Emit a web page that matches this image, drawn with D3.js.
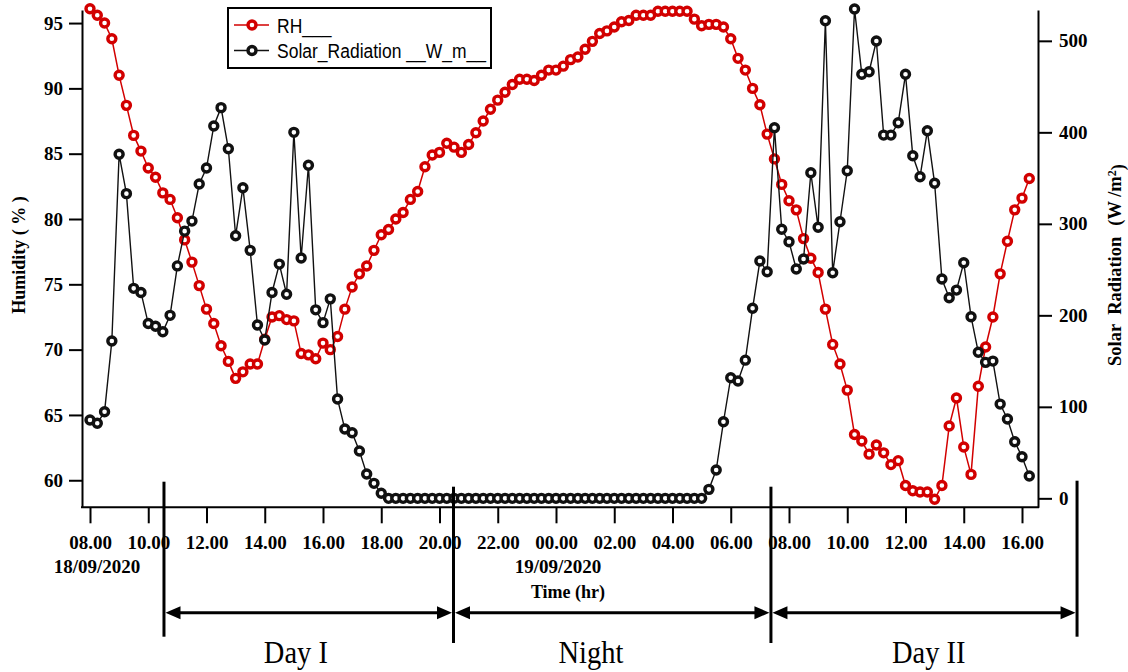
<!DOCTYPE html>
<html><head><meta charset="utf-8">
<script src="https://cdn.jsdelivr.net/npm/d3@7"></script>
<style>body{margin:0;background:#fff} svg{display:block}</style>
</head><body>
<svg id="chart" width="1128" height="672"></svg>
<script>
// ---- data (15-minute samples starting 18/09/2020 08:00) ----
const startHour = 8, stepHours = 0.25;
const rh = [96.1,95.6,95.0,93.8,91.0,88.7,86.4,85.2,83.9,83.2,
  82.0,81.5,80.1,78.4,76.7,74.9,73.1,72.0,70.3,69.1,
  67.8,68.3,68.9,68.9,70.8,72.5,72.6,72.3,72.2,69.7,
  69.6,69.3,70.5,70.0,71.0,73.1,74.8,75.8,76.4,77.6,
  78.8,79.2,80.0,80.5,81.5,82.1,84.0,84.9,85.1,85.8,
  85.5,85.1,85.7,86.6,87.5,88.4,89.1,89.7,90.3,90.7,
  90.7,90.6,91.0,91.4,91.4,91.7,92.2,92.4,93.0,93.6,
  94.2,94.4,94.7,95.1,95.2,95.6,95.6,95.6,95.9,95.9,
  95.9,95.9,95.9,95.3,94.8,94.9,94.9,94.7,93.8,92.3,
  91.4,90.0,88.75,86.5,84.6,82.65,81.4,80.7,78.5,77.0,
  75.9,73.1,70.4,68.9,66.9,63.5,63.0,62.0,62.7,62.1,
  61.2,61.5,59.6,59.2,59.1,59.1,58.55,59.6,64.15,66.3,
  62.55,60.45,67.2,70.2,72.5,75.8,78.3,80.7,81.6,83.1];
const solar = [85.6,82,94.7,172,376,333,229.5,225,191,188,
  182,200,254,292,303,343.5,361,407,427,382,
  287,339.5,271,189.4,173,225,256,223,400,262.6,
  364,206,192,218,108.5,75.7,71.7,51.7,26.6,16.4,
  5.5,0,0,0,0,0,0,0,0,0,
  0,0,0,0,0,0,0,0,0,0,
  0,0,0,0,0,0,0,0,0,0,
  0,0,0,0,0,0,0,0,0,0,
  0,0,0,0,0,9.8,30.9,83.7,131.8,128.2,
  151,207.7,259.3,247.7,405,294,280.4,250.6,261.5,355.8,
  296.2,522,246.6,302.3,358,534.8,463.4,466.2,499.8,397,
  397,410.5,463.4,374.4,351.5,401.7,344.3,239.7,219.2,227.6,
  257.5,198.5,159.6,148.6,150,103,86.7,61.9,45.5,24.4];
const xTickHours = [8,10,12,14,16,18,20,22,24,26,28,30,32,34,36,38,40];
const xTickLabels = ["08.00","10.00","12.00","14.00","16.00","18.00","20.00","22.00","00.00",
  "02.00","04.00","06.00","08.00","10.00","12.00","14.00","16.00"];
const rhTicks = [60,65,70,75,80,85,90,95];
const solarTicks = [0,100,200,300,400,500];
const dateLabels = ["18/09/2020","19/09/2020"];
const dateLabelHours = [8.24,24.07];
const periodBounds = [10.54, 20.48, 31.38, 41.89];
const periodLabels = ["Day I","Night","Day II"];
const periodLabelHours = [15.07, 25.2, 36.8];
const legendLabels = ["RH___","Solar_Radiation __W_m__"];

// ---- layout ----
const svg = d3.select("#chart");
const SERIF = "'Liberation Serif','Times New Roman',serif";
const SANS = "'Liberation Sans',Arial,sans-serif";
const RED = "#d20000", BLACK = "#111";
const X0 = 82, X1 = 1038, Y0 = 507.3, YT = 10;

const x = d3.scaleLinear().domain([8, 40]).range([90, 1022]);
const yL = d3.scaleLinear().domain([57.93, 96.0]).range([Y0, YT]);
const yR = d3.scaleLinear().domain([-9.8, 533.7]).range([Y0, YT]);
const tOf = i => startHour + i * stepHours;

function label(px, py, str, o) {
  o = o || {};
  const t = svg.append("text")
    .attr("transform", `translate(${px},${py}) scale(1,${o.sy||1})${o.rot ? ` rotate(${o.rot})` : ""}`)
    .attr("text-anchor", o.anchor || "middle")
    .attr("font-family", o.family || SERIF)
    .attr("font-size", o.size || 19)
    .attr("font-weight", o.weight || "normal")
    .attr("fill", "#000")
    .style("white-space", "pre")
    .text(str);
  return t;
}

// ---- axes ----
const gx = svg.append("g").attr("transform", `translate(0,${Y0})`)
  .call(d3.axisBottom(x).tickValues(xTickHours).tickFormat((d, i) => xTickLabels[i])
    .tickSize(16).tickSizeOuter(0));
gx.select(".domain").remove();
gx.selectAll(".tick line").attr("stroke", "#000").attr("stroke-width", 2);
gx.selectAll(".tick text").attr("y", 42).attr("dy", null)
  .attr("font-family", SERIF).attr("font-size", 19).attr("font-weight", "bold").attr("fill", "#000");
svg.append("line").attr("x1", X0 - 1).attr("x2", X1 + 1).attr("y1", Y0).attr("y2", Y0)
  .attr("stroke", "#000").attr("stroke-width", 2);

const gl = svg.append("g").attr("transform", `translate(${X0},0)`)
  .call(d3.axisLeft(yL).tickValues(rhTicks).tickSize(13).tickPadding(6).tickSizeOuter(0));
const gr = svg.append("g").attr("transform", `translate(${X1},0)`)
  .call(d3.axisRight(yR).tickValues(solarTicks).tickSize(14).tickPadding(7).tickSizeOuter(0));
[gl, gr].forEach(g => {
  g.select(".domain").attr("stroke", "#000").attr("stroke-width", 2);
  g.selectAll(".tick line").attr("stroke", "#000").attr("stroke-width", 2);
  g.selectAll(".tick text").attr("font-family", SERIF).attr("font-size", 19)
    .attr("font-weight", "bold").attr("fill", "#000");
});

// axis titles
const lt = svg.append("text")
  .attr("transform", "translate(25,255) rotate(-90)")
  .attr("text-anchor", "middle").attr("font-family", SERIF).attr("font-size", 18)
  .attr("font-weight", "bold").style("white-space", "pre").text("Humidity\u00A0(\u00A0%\u00A0)");
const rt = svg.append("text")
  .attr("transform", "translate(1121,265) rotate(-90)")
  .attr("text-anchor", "middle").attr("font-family", SERIF).attr("font-size", 18.5)
  .attr("font-weight", "bold").style("white-space", "pre");
rt.append("tspan").text("Solar");
rt.append("tspan").attr("dx", 9).text("Radiation");
rt.append("tspan").attr("dx", 11).text("(W /m");
rt.append("tspan").attr("dy", "-0.45em").attr("font-size", "0.65em").text("2");
rt.append("tspan").attr("dy", "0.45em").text(")");

// date labels / time title
dateLabels.forEach((d, i) => label(x(dateLabelHours[i]), 573, d, {weight: "bold", size: 19}));
label(568, 598, "Time (hr)", {weight: "bold", size: 18});

// ---- series ----
const pts = d3.range(rh.length);
const lineRH = d3.line().x(i => x(tOf(i))).y(i => yL(rh[i]));
const lineSR = d3.line().x(i => x(tOf(i))).y(i => yR(solar[i]));

svg.append("path").attr("d", lineRH(pts)).attr("fill", "none").attr("stroke", RED).attr("stroke-width", 1.5);
svg.append("g").selectAll("circle").data(pts).join("circle")
  .attr("cx", i => x(tOf(i))).attr("cy", i => yL(rh[i])).attr("r", 4)
  .attr("fill", "#fff").attr("stroke", RED).attr("stroke-width", 3.4);

svg.append("path").attr("d", lineSR(pts)).attr("fill", "none").attr("stroke", BLACK).attr("stroke-width", 1.4);
svg.append("g").selectAll("circle").data(pts).join("circle")
  .attr("cx", i => x(tOf(i))).attr("cy", i => yR(solar[i])).attr("r", 4)
  .attr("fill", "#fff").attr("stroke", BLACK).attr("stroke-width", 3.4);

// ---- legend ----
svg.append("rect").attr("x", 228).attr("y", 8).attr("width", 263).attr("height", 60)
  .attr("fill", "#fff").attr("stroke", "#000").attr("stroke-width", 2);
[RED, BLACK].forEach((c, k) => {
  const ly = 25 + k * 25.5;
  svg.append("line").attr("x1", 234).attr("x2", 269).attr("y1", ly).attr("y2", ly)
    .attr("stroke", c).attr("stroke-width", 1.5);
  svg.append("circle").attr("cx", 252).attr("cy", ly).attr("r", 4)
    .attr("fill", "#fff").attr("stroke", c).attr("stroke-width", 3.4);
  label(277, ly + 7.5, legendLabels[k], {anchor: "start", family: SANS, size: 17.5, sy: 1.15});
});

// ---- period annotations ----
const AY = 612.7;
const sepTop = [481.7, 486.7, 486.7, 480.7], sepBot = [636.7, 643, 643, 636.7];
periodBounds.forEach((h, i) => {
  svg.append("line").attr("x1", x(h)).attr("x2", x(h)).attr("y1", sepTop[i]).attr("y2", sepBot[i])
    .attr("stroke", "#000").attr("stroke-width", 3);
});
for (let i = 0; i < 3; i++) {
  const a = x(periodBounds[i]) + 1.5, b = x(periodBounds[i + 1]) - 1.5, hl = 15, hw = 6.5;
  svg.append("line").attr("x1", a + hl - 1).attr("x2", b - hl + 1).attr("y1", AY).attr("y2", AY)
    .attr("stroke", "#000").attr("stroke-width", 3);
  svg.append("path").attr("d", `M${a},${AY}L${a + hl},${AY - hw}L${a + hl},${AY + hw}Z`).attr("fill", "#000");
  svg.append("path").attr("d", `M${b},${AY}L${b - hl},${AY - hw}L${b - hl},${AY + hw}Z`).attr("fill", "#000");
  label(x(periodLabelHours[i]), 663, periodLabels[i], {size: 28.5, sy: 1.12});
}
</script>
</body></html>
